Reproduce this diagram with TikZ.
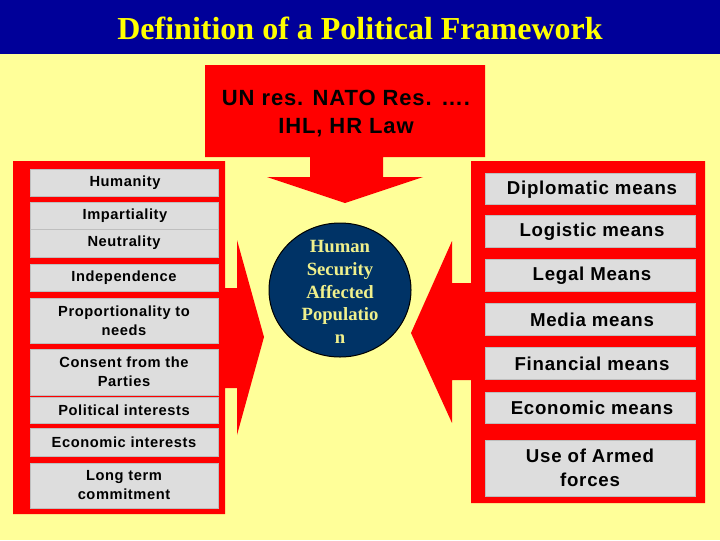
\documentclass[tikz,border=0pt]{standalone}
\usepackage{fontspec}
\setmainfont{Liberation Sans}
\newfontfamily\titlefont{Liberation Serif}
\newfontfamily\boxfont[LetterSpace=4]{Liberation Sans}

\tikzset{every picture/.style={line width=0.75pt}}
\tikzset{
  redshape/.style={fill={rgb, 255:red, 255; green, 0; blue, 0 }, draw=none},
  graybox/.style={fill={rgb, 255:red, 221; green, 221; blue, 221 }, draw={rgb, 255:red, 190; green, 190; blue, 190 }, line width=0.4pt},
  leftlbl/.style={inner sep=0.75pt, align=center, font=\boxfont\bfseries\fontsize{11}{14.25}\selectfont},
  rightlbl/.style={inner sep=0.75pt, align=center, font=\boxfont\bfseries\fontsize{14}{18}\selectfont},
}

\begin{document}
\begin{tikzpicture}[x=0.75pt,y=0.75pt,yscale=-1,xscale=1]
%Shape: Background
\draw [draw=none, fill={rgb, 255:red, 255; green, 255; blue, 153 }] (0,0) rectangle (720,540);
\useasboundingbox (0,0) rectangle (720,540);
%Shape: Title bar
\draw [draw=none, fill={rgb, 255:red, 0; green, 0; blue, 153 }] (0,0) rectangle (720,54);
% Text Node
\draw (360,28) node (title) [inner sep=0.75pt, text={rgb, 255:red, 255; green, 255; blue, 0 }, font=\titlefont\bfseries\fontsize{24}{28}\selectfont] {Definition of a Political Framework};

%Shape: Top box with down arrow
\draw [redshape] (205,65) -- (485,65) -- (485,157) -- (383,157) -- (383,177) -- (423,177) -- (345,203) -- (267,177) -- (310,177) -- (310,157) -- (205,157) -- cycle ;
% Text Node
\draw (346,114) node (resol) [inner sep=0.75pt, align=center, font=\boxfont\bfseries\fontsize{16.5}{21}\selectfont] {UN res. NATO Res. ….\\IHL, HR Law};

%Shape: Left panel with right arrow
\draw [redshape] (13,161) -- (225,161) -- (225,288) -- (237,288) -- (237,240) -- (264,337) -- (237,435) -- (237,388) -- (225,388) -- (225,514) -- (13,514) -- cycle ;
%Shape: Right panel with left arrow
\draw [redshape] (705,161) -- (471,161) -- (471,283) -- (452,283) -- (452,241) -- (411,333) -- (452,423) -- (452,380) -- (471,380) -- (471,503) -- (705,503) -- cycle ;

%Shape: Circle
\draw [fill={rgb, 255:red, 0; green, 51; blue, 102 }, draw=black] (340,290) ellipse [x radius=71, y radius=67] ;
% Text Node
\draw (340,292) node (hsap) [inner sep=0.75pt, align=center, text={rgb, 255:red, 240; green, 240; blue, 140 }, font=\titlefont\bfseries\fontsize{14}{17}\selectfont] {Human\\Security\\Affected\\Populatio\\n};

%Shape: Left boxes
\draw [graybox] (30,169) rectangle (218,196) ;
\draw [graybox] (30,202) rectangle (218,229) ;
\draw [graybox] (30,229) rectangle (218,257) ;
\draw [graybox] (30,264) rectangle (218,291) ;
\draw [graybox] (30,298) rectangle (218,343) ;
\draw [graybox] (30,349) rectangle (218,395) ;
\draw [graybox] (30,397) rectangle (218,423) ;
\draw [graybox] (30,428) rectangle (218,456) ;
\draw [graybox] (30,463) rectangle (218,508) ;
% Text Node
\draw (125,182.5) node (humanity) [leftlbl] {Humanity};
\draw (125,215.5) node (impart) [leftlbl] {Impartiality};
\draw (124,243) node (neutral) [leftlbl] {Neutrality};
\draw (124,277.5) node (indep) [leftlbl] {Independence};
\draw (124,320.5) node (proport) [leftlbl] {Proportionality to\\needs};
\draw (124,372) node (consent) [leftlbl] {Consent from the\\Parties};
\draw (124,410) node (polint) [leftlbl] {Political interests};
\draw (124,442) node (ecoint) [leftlbl] {Economic interests};
\draw (124,485.5) node (longterm) [leftlbl] {Long term\\commitment};

%Shape: Right boxes
\draw [graybox] (485,173) rectangle (695,204) ;
\draw [graybox] (485,215) rectangle (695,247) ;
\draw [graybox] (485,259) rectangle (695,291) ;
\draw [graybox] (485,303) rectangle (695,335) ;
\draw [graybox] (485,347) rectangle (695,379) ;
\draw [graybox] (485,392) rectangle (695,423) ;
\draw [graybox] (485,440) rectangle (695,496) ;
% Text Node
\draw (592,190) node (diplo) [rightlbl] {Diplomatic means};
\draw (592,232) node (logist) [rightlbl] {Logistic means};
\draw (592,276) node (legal) [rightlbl] {Legal Means};
\draw (592,320) node (media) [rightlbl] {Media means};
\draw (592,364) node (financ) [rightlbl] {Financial means};
\draw (592,408) node (ecomeans) [rightlbl] {Economic means};
\draw (590,468) node (armed) [rightlbl] {Use of Armed\\forces};
\end{tikzpicture}
\end{document}
